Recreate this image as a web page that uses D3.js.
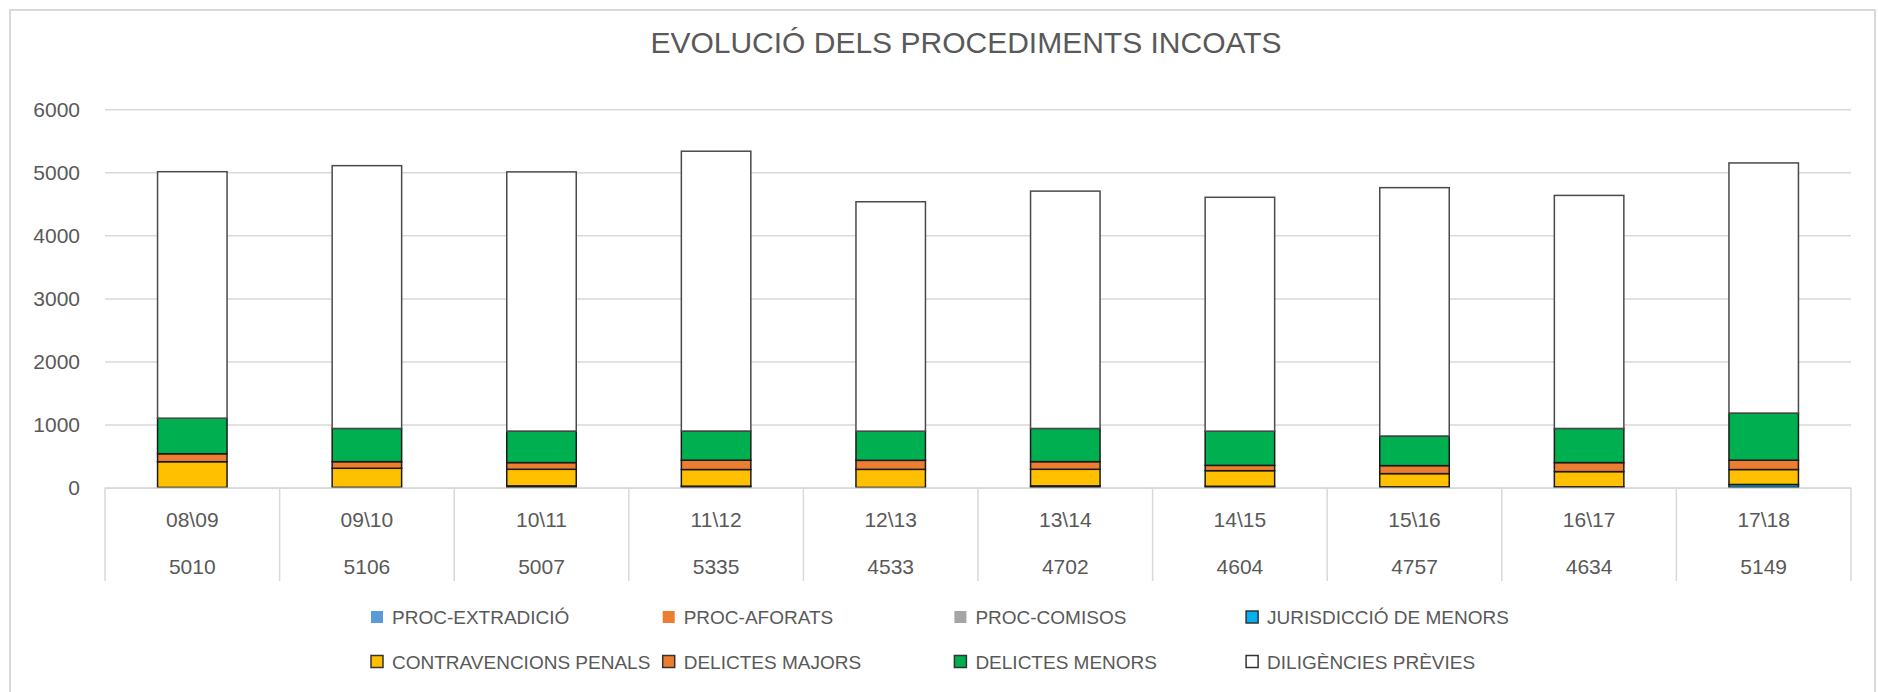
<!DOCTYPE html>
<html>
<head>
<meta charset="utf-8">
<script src="https://cdn.jsdelivr.net/npm/d3@7"></script>
<style>
  body { margin: 0; background: #fff; }
  svg { display: block; font-family: "Liberation Sans", Arial, sans-serif; }
  .axis text { fill: #595959; font-size: 21px; }
</style>
</head>
<body>
<svg id="chart" width="1878" height="692"></svg>
<script>
// values
var categories = ["08\\09", "09\\10", "10\\11", "11\\12", "12\\13", "13\\14", "14\\15", "15\\16", "16\\17", "17\\18"];
var totals = [5010, 5106, 5007, 5335, 4533, 4702, 4604, 4757, 4634, 5149];

var extradicio     = [0, 0, 0, 1, 0, 0, 0, 0, 0, 1];
var aforats        = [1, 2, 1, 2, 1, 1, 1, 2, 1, 2];
var comisos        = [0, 0, 1, 0, 0, 1, 0, 0, 1, 0];
var jurisdiccio    = [0, 0, 24, 18, 0, 24, 18, 8, 8, 45];
var contravencions = [408, 303, 263, 264, 287, 263, 248, 210, 242, 237];
var majors         = [127, 105, 106, 148, 143, 121, 84, 127, 143, 148];
var menors         = [564, 527, 500, 463, 463, 527, 543, 470, 542, 748];
var previes        = [3910, 4169, 4112, 4439, 3639, 3765, 3710, 3940, 3697, 3968];

var yTicks = [0, 1000, 2000, 3000, 4000, 5000, 6000];

var series = [
  { name: "PROC-EXTRADICIÓ", values: extradicio, color: "#5B9BD5", border: false },
  { name: "PROC-AFORATS", values: aforats, color: "#ED7D31", border: false },
  { name: "PROC-COMISOS", values: comisos, color: "#A5A5A5", border: false },
  { name: "JURISDICCIÓ DE MENORS", values: jurisdiccio, color: "#00B0F0", border: true },
  { name: "CONTRAVENCIONS PENALS", values: contravencions, color: "#FFC000", border: true },
  { name: "DELICTES MAJORS", values: majors, color: "#ED7D31", border: true },
  { name: "DELICTES MENORS", values: menors, color: "#00B050", border: true },
  { name: "DILIGÈNCIES PRÈVIES", values: previes, color: "#FFFFFF", border: true }
];

var svg = d3.select("#chart");

var plotLeft = 105, plotRight = 1851, plotTop = 109.3, plotBottom = 487.5;

// outer frame
svg.append("rect")
  .attr("x", 10).attr("y", 10)
  .attr("width", 1865).attr("height", 700)
  .attr("fill", "#fff")
  .attr("stroke", "#D9D9D9")
  .attr("stroke-width", 2);

svg.append("text")
  .attr("x", 966)
  .attr("y", 53)
  .attr("text-anchor", "middle")
  .attr("fill", "#595959")
  .style("font-size", "30px")
  .text("EVOLUCIÓ DELS PROCEDIMENTS INCOATS");

var x = d3.scaleBand()
  .domain(categories)
  .range([plotLeft, plotRight])
  .paddingInner(0.602)
  .paddingOuter(0.301);

var cell = d3.scaleBand()
  .domain(categories)
  .range([plotLeft, plotRight])
  .padding(0);

var y = d3.scaleLinear()
  .domain([0, 6000])
  .range([plotBottom, plotTop]);

// gridlines + labels
var yAxis = svg.append("g")
  .attr("class", "axis")
  .attr("transform", "translate(" + plotLeft + ",0)")
  .call(d3.axisLeft(y)
    .tickValues(yTicks)
    .tickFormat(d3.format("d"))
    .tickSize(-(plotRight - plotLeft))
    .tickPadding(25));
yAxis.select(".domain").remove();
yAxis.selectAll(".tick line").attr("stroke", "#D9D9D9").attr("stroke-width", 1.5);

// stacked bars
var rows = categories.map(function(c, i) {
  var r = { cat: c };
  series.forEach(function(s) { r[s.name] = s.values[i]; });
  return r;
});
var stack = d3.stack().keys(series.map(function(s) { return s.name; }))(rows);

svg.append("g")
  .selectAll("g")
  .data(stack)
  .enter().append("g")
  .each(function(layer, li) {
    var s = series[li];
    d3.select(this).selectAll("rect")
      .data(layer)
      .enter().append("rect")
      .attr("x", function(d) { return x(d.data.cat); })
      .attr("y", function(d) { return y(d[1]); })
      .attr("width", x.bandwidth())
      .attr("height", function(d) { return Math.max(0, y(d[0]) - y(d[1])); })
      .attr("fill", s.color)
      .attr("stroke", s.border ? (s.name == "DILIGÈNCIES PRÈVIES" ? "#4a4a4a" : "#1a1a1a") : "none")
      .attr("stroke-width", s.border ? 1.5 : 0);
  });

// data table under the axis
var table = svg.append("g");
table.append("line")
  .attr("x1", plotLeft).attr("x2", plotRight)
  .attr("y1", plotBottom + 0.8).attr("y2", plotBottom + 0.8)
  .attr("stroke", "#D9D9D9").attr("stroke-width", 1.5);

var bounds = categories.map(function(c) { return cell(c); }).concat([plotRight]);
table.selectAll(".vline")
  .data(bounds)
  .enter().append("line")
  .attr("class", "vline")
  .attr("x1", function(d) { return d; }).attr("x2", function(d) { return d; })
  .attr("y1", plotBottom).attr("y2", 581)
  .attr("stroke", "#D9D9D9").attr("stroke-width", 1.5);

table.selectAll(".cat")
  .data(categories)
  .enter().append("text")
  .attr("class", "cat")
  .attr("x", function(d) { return cell(d) + cell.bandwidth() / 2; })
  .attr("y", 527)
  .attr("text-anchor", "middle")
  .attr("fill", "#595959")
  .style("font-size", "21px")
  .text(function(d) { return d; });

table.selectAll(".tot")
  .data(totals)
  .enter().append("text")
  .attr("class", "tot")
  .attr("x", function(d, i) { return cell(categories[i]) + cell.bandwidth() / 2; })
  .attr("y", 574)
  .attr("text-anchor", "middle")
  .attr("fill", "#595959")
  .style("font-size", "21px")
  .text(function(d) { return d; });

// legend, 4 per row
var legend = svg.append("g");
var item = legend.selectAll(".item")
  .data(series)
  .enter().append("g")
  .attr("class", "item")
  .attr("transform", function(d, i) {
    return "translate(" + (371 + (i % 4) * 291.7) + "," + (i < 4 ? 617 : 661.5) + ")";
  });

item.append("rect")
  .attr("x", 0).attr("y", -6)
  .attr("width", 12).attr("height", 12)
  .attr("fill", function(d) { return d.color; })
  .attr("stroke", function(d) { return d.border ? "#333" : "none"; })
  .attr("stroke-width", 1.5);

item.append("text")
  .attr("x", 21)
  .attr("y", 7)
  .attr("fill", "#595959")
  .style("font-size", "19px")
  .text(function(d) { return d.name; });
</script>
</body>
</html>
